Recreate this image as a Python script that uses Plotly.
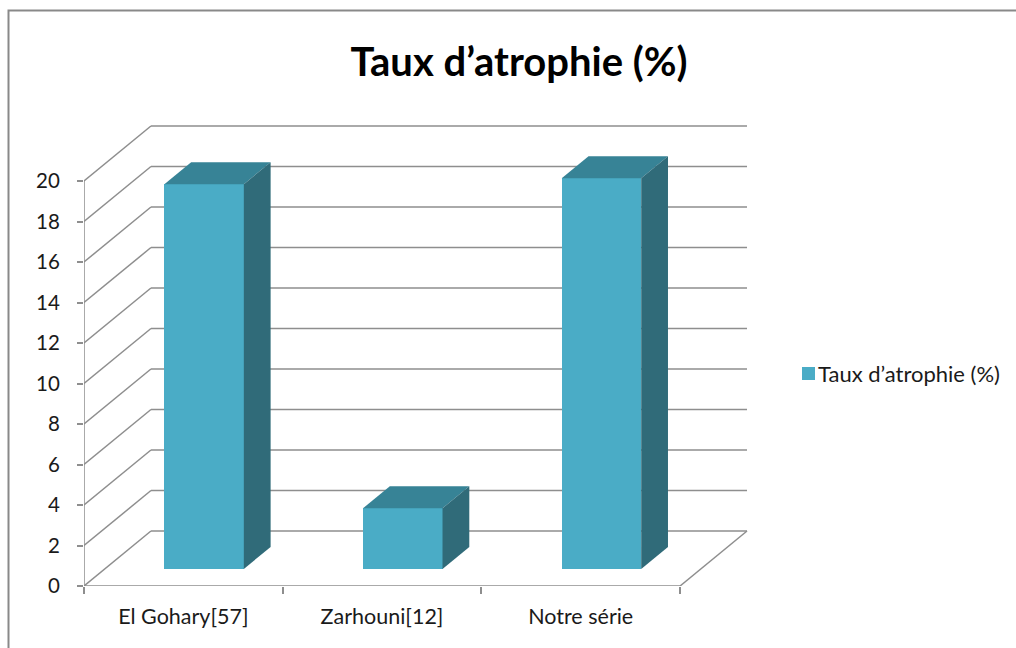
import plotly.graph_objects as go

# ---- data ----
categories = ["El Gohary[57]", "Zarhouni[12]", "Notre série"]
values = [19, 3, 19.3]
series_name = "Taux d’atrophie (%)"
chart_title = "Taux d’atrophie (%)"
y_ticks = list(range(0, 21, 2))

# ---- style / geometry (3D projection in axis units) ----
W, H = 1016, 648
ML, MR, MT, MB = 84, 268, 100, 62
X_RANGE = [-0.5, 2.842]
Y_RANGE = [0, 24.0]
DX, DY = 0.337, 2.716          # full depth offset of the back wall
F0, F1 = 0.31, 0.71            # bar front / back depth fractions
HALF_W = 0.2                   # half bar width
FRONT, TOP, SIDE = "#4AACC6", "#378396", "#306B79"
GRID = "#8E8E8E"
FONT = "Lato"

n = len(categories)
xs = list(range(n))
x_lo, x_hi = -0.5, n - 0.5

fig = go.Figure()

# front faces (bars)
fig.add_trace(go.Bar(
    x=[i + F0 * DX for i in xs], y=values, base=[F0 * DY] * n, width=2 * HALF_W,
    marker=dict(color=FRONT, line=dict(width=0)), name=series_name, showlegend=False,
    hoverinfo="skip"))

# top and side faces
for i, v in zip(xs, values):
    l0, r0 = i - HALF_W + F0 * DX, i + HALF_W + F0 * DX
    l1, r1 = i - HALF_W + F1 * DX, i + HALF_W + F1 * DX
    b0, b1 = F0 * DY, F1 * DY
    fig.add_trace(go.Scatter(
        x=[l0, r0, r1, l1, l0], y=[v + b0, v + b0, v + b1, v + b1, v + b0],
        fill="toself", fillcolor=TOP, mode="lines", line=dict(width=0, color=TOP),
        showlegend=False, hoverinfo="skip"))
    fig.add_trace(go.Scatter(
        x=[r0, r1, r1, r0, r0], y=[b0, b1, v + b1, v + b0, b0],
        fill="toself", fillcolor=SIDE, mode="lines", line=dict(width=0, color=SIDE),
        showlegend=False, hoverinfo="skip"))

# walls / grid as shapes below the traces
shapes = []
def seg(x0, y0, x1, y1):
    shapes.append(dict(type="line", xref="x", yref="y", x0=x0, y0=y0, x1=x1, y1=y1,
                       line=dict(color=GRID, width=1.5), layer="below"))
for v in y_ticks:
    seg(x_lo, v, x_lo + DX, v + DY)
    seg(x_lo + DX, v + DY, x_hi + DX, v + DY)
seg(x_lo, 0, x_lo, y_ticks[-1])
seg(x_lo, 0, x_hi, 0)
seg(x_hi, 0, x_hi + DX, DY)

# outer chart border (pixel -> paper conversion)
pw, ph = W - ML - MR, H - MT - MB
def px(xp): return (xp - ML) / pw
def py(yp): return (H - MB - yp) / ph
shapes.append(dict(type="rect", xref="paper", yref="paper",
                   x0=px(8.5), x1=px(1030), y0=py(10.5), y1=py(700),
                   line=dict(color="#898989", width=2), fillcolor="rgba(0,0,0,0)", layer="below"))

# custom legend
shapes.append(dict(type="rect", xref="paper", yref="paper",
                   x0=px(802), x1=px(815), y0=py(380), y1=py(367),
                   line=dict(width=0), fillcolor=FRONT))
annotations = [dict(text=series_name, xref="paper", yref="paper", x=px(816), y=py(373.5),
                    xanchor="left", yanchor="middle", showarrow=False,
                    font=dict(family=FONT, size=22, color="#1a1a1a"))]

fig.update_layout(
    width=W, height=H, margin=dict(l=ML, r=MR, t=MT, b=MB, autoexpand=False),
    paper_bgcolor="white", plot_bgcolor="white", showlegend=False,
    title=dict(text=chart_title, xref="container", yref="container",
               x=519 / W, y=1 - 62 / H, xanchor="center", yanchor="middle",
               font=dict(family=FONT, size=40, color="black", weight=700)),
    shapes=shapes, annotations=annotations, bargap=0,
    xaxis=dict(range=X_RANGE, showgrid=False, zeroline=False, showline=False,
               tickmode="array", tickvals=xs, ticktext=categories, ticks="",
               ticklabelstandoff=15,
               minor=dict(tickmode="array", tickvals=[x_lo + k for k in range(n + 1)],
                          ticks="outside", ticklen=7, tickcolor=GRID, tickwidth=1.5),
               tickfont=dict(family=FONT, size=21.5, color="#1a1a1a")),
    yaxis=dict(range=Y_RANGE, showgrid=False, zeroline=False, showline=False,
               tickmode="array", tickvals=y_ticks, ticks="outside", ticklen=6,
               tickcolor=GRID, tickwidth=1.5, ticklabelstandoff=13,
               tickfont=dict(family=FONT, size=20.5, color="#1a1a1a")),
)

fig.write_html("out.html", config={"displayModeBar": False},
               post_script="document.body.style.margin='0';")
